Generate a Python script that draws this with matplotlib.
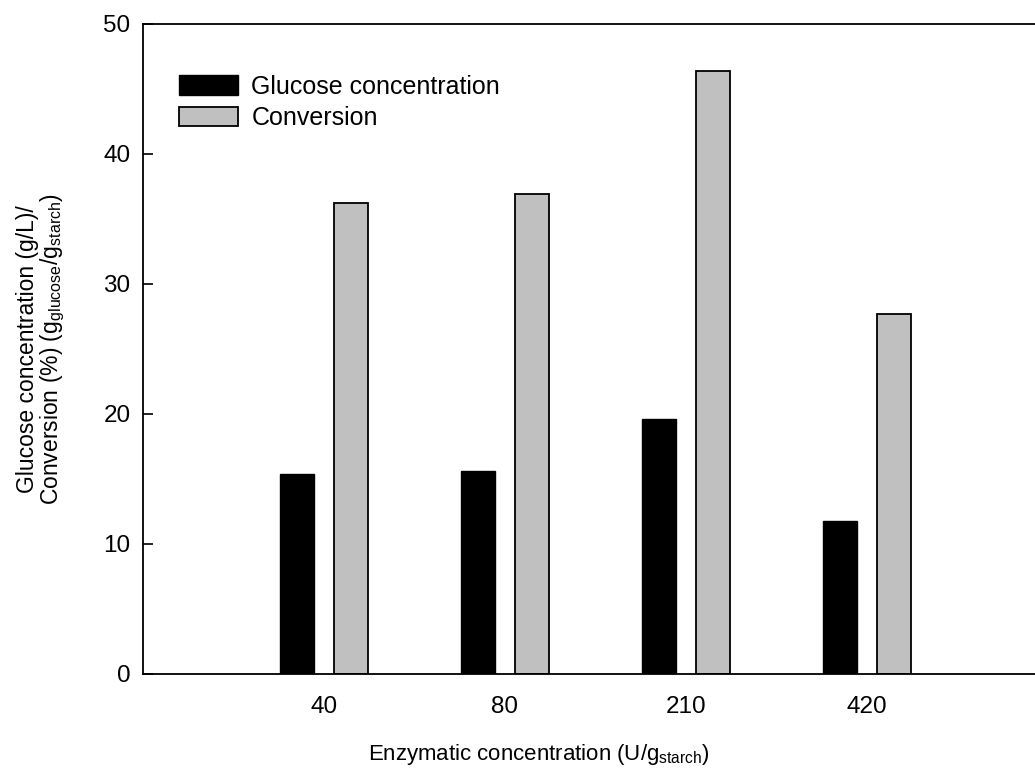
import matplotlib
matplotlib.use("Agg")
import matplotlib.pyplot as plt
import numpy as np

plt.rcParams["font.family"] = ["Liberation Sans", "DejaVu Sans"]

# ─── Data ─────────────────────────────────────────────────────────────────────
enzyme_levels = ["40", "80", "210", "420"]
glucose_conc = [15.35, 15.6, 19.65, 11.75]   # g/L
conversion = [36.2, 36.9, 46.4, 27.7]        # %

# ─── Plot ─────────────────────────────────────────────────────────────────────
fig = plt.figure(figsize=(10.35, 7.78), dpi=100)
ax = fig.add_axes([0.1382, 0.1337, 1.0 - 0.1382, 0.9692 - 0.1337])

x = np.arange(1, len(enzyme_levels) + 1)
width = 0.188
offset = 0.149

ax.bar(x - offset, glucose_conc, width, color="black", edgecolor="black",
       linewidth=1.0, label="Glucose concentration")
ax.bar(x + offset, conversion, width, color="#c0c0c0", edgecolor="black",
       linewidth=1.3, label="Conversion")

ax.set_xlim(0.0, 4.93)
ax.set_ylim(0, 50)
ax.set_yticks(np.arange(0, 51, 10))
ax.set_xticks(x)
ax.set_xticklabels(enzyme_levels)

ax.tick_params(axis="y", direction="in", length=7, width=1.2, pad=9,
               labelsize=17.5)
ax.tick_params(axis="x", length=0, pad=16, labelsize=17.5)

for side in ("left", "bottom", "top"):
    ax.spines[side].set_linewidth(1.3)
ax.spines["right"].set_visible(False)

ax.set_xlabel(r"Enzymatic concentration (U/g$_{\mathregular{starch}}$)",
              fontsize=16, labelpad=17)
ax.xaxis.label.set_x(0.444)
ax.set_ylabel("Glucose concentration (g/L)/\n"
              r"Conversion (%) (g$_{\mathregular{glucose}}$/g$_{\mathregular{starch}}$)",
              fontsize=16.5, labelpad=26, linespacing=1.0)

ax.legend(loc="upper left", bbox_to_anchor=(0.04, 0.922), frameon=False,
          fontsize=18, handlelength=2.36, handleheight=0.8,
          handletextpad=0.55, labelspacing=0.3, borderpad=0,
          borderaxespad=0)

plt.savefig("out.png", dpi=100)
plt.close()
